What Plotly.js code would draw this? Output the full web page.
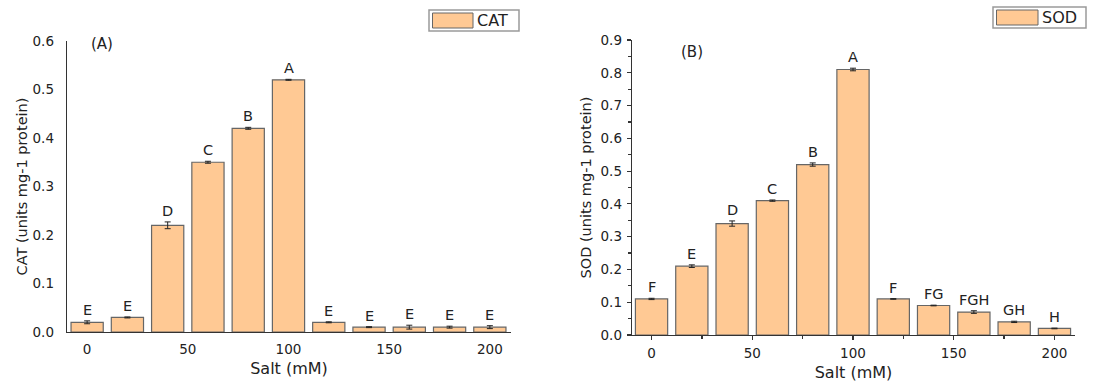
<!DOCTYPE html>
<html>
<head>
<meta charset="utf-8">
<script src="https://cdn.plot.ly/plotly-3.0.1.min.js"></script>
<style>
  html, body { margin: 0; padding: 0; background: #fff; }
  #chart { width: 1093px; height: 387px; }
</style>
</head>
<body>
<div id="chart"></div>
<script>
// ---- data ----
const salt = [0, 20, 40, 60, 80, 100, 120, 140, 160, 180, 200];
const catValues = [0.02, 0.03, 0.22, 0.35, 0.42, 0.52, 0.02, 0.01, 0.01, 0.01, 0.01];
const catErrors = [0.003, 0.001, 0.007, 0.002, 0.002, 0.001, 0.001, 0.001, 0.004, 0.002, 0.003];
const catLetters = ["E", "E", "D", "C", "B", "A", "E", "E", "E", "E", "E"];
const sodValues = [0.11, 0.21, 0.34, 0.41, 0.52, 0.81, 0.11, 0.09, 0.07, 0.04, 0.02];
const sodErrors = [0.002, 0.004, 0.008, 0.002, 0.005, 0.004, 0.001, 0.001, 0.004, 0.002, 0.001];
const sodLetters = ["F", "E", "D", "C", "B", "A", "F", "FG", "FGH", "GH", "H"];
const catTicks = [0, 0.1, 0.2, 0.3, 0.4, 0.5, 0.6];
const sodTicks = [0, 0.1, 0.2, 0.3, 0.4, 0.5, 0.6, 0.7, 0.8, 0.9];
const saltTicks = [0, 50, 100, 150, 200];

// ---- styling ----
const W = 1093, H = 387;
const FONT = "DejaVu Sans, Verdana, sans-serif";
const FILL = "#FFC994";
const EDGE = "#666666";
const TXT = "#222222";
const px = v => v / W;
const py = v => 1 - v / H;

function barTrace(vals, errs, xa, ya, name) {
  return {
    type: "bar", name: name, x: salt, y: vals, width: 16,
    xaxis: xa, yaxis: ya, showlegend: false,
    marker: { color: FILL, line: { color: EDGE, width: 1.2 } },
    error_y: { type: "data", array: errs, visible: true, color: "#222", thickness: 1, width: 3 },
    hoverinfo: "x+y"
  };
}

const data = [
  barTrace(catValues, catErrors, "x", "y", "CAT"),
  barTrace(sodValues, sodErrors, "x2", "y2", "SOD")
];

const letterFont = { family: FONT, size: 14.5, color: TXT };
const annotations = [];
salt.forEach((s, i) => {
  annotations.push({ xref: "x", yref: "y", x: s, y: catValues[i] + catErrors[i], text: catLetters[i],
    showarrow: false, yanchor: "bottom", yshift: 1, font: letterFont });
  annotations.push({ xref: "x2", yref: "y2", x: s, y: sodValues[i] + sodErrors[i], text: sodLetters[i],
    showarrow: false, yanchor: "bottom", yshift: 1, font: letterFont });
});
// panel labels
annotations.push({ xref: "paper", yref: "paper", x: px(102), y: py(44), text: "(A)", showarrow: false,
  xanchor: "center", yanchor: "middle", font: { family: FONT, size: 15, color: TXT } });
annotations.push({ xref: "paper", yref: "paper", x: px(692), y: py(52), text: "(B)", showarrow: false,
  xanchor: "center", yanchor: "middle", font: { family: FONT, size: 15, color: TXT } });
// legend texts
annotations.push({ xref: "paper", yref: "paper", x: px(475), y: py(20.5), text: "CAT", showarrow: false,
  xanchor: "left", yanchor: "middle", font: { family: FONT, size: 16, color: TXT } });
annotations.push({ xref: "paper", yref: "paper", x: px(1040), y: py(17.5), text: "SOD", showarrow: false,
  xanchor: "left", yanchor: "middle", font: { family: FONT, size: 16, color: TXT } });

const shapes = [
  // legend boxes
  { type: "rect", xref: "paper", yref: "paper", x0: px(429), x1: px(519), y0: py(31), y1: py(10),
    line: { color: "#9a9a9a", width: 1.5 }, fillcolor: "rgba(0,0,0,0)" },
  { type: "rect", xref: "paper", yref: "paper", x0: px(432.5), x1: px(473), y0: py(28), y1: py(13),
    line: { color: EDGE, width: 1 }, fillcolor: FILL },
  { type: "rect", xref: "paper", yref: "paper", x0: px(993), x1: px(1086), y0: py(28), y1: py(7),
    line: { color: "#9a9a9a", width: 1.5 }, fillcolor: "rgba(0,0,0,0)" },
  { type: "rect", xref: "paper", yref: "paper", x0: px(996.5), x1: px(1038), y0: py(25), y1: py(10),
    line: { color: EDGE, width: 1 }, fillcolor: FILL }
];

const tickFont = { family: FONT, size: 13.5, color: TXT };
const xTitleFont = { family: FONT, size: 16, color: TXT };
const yTitleFont = { family: FONT, size: 14.5, color: TXT };

const layout = {
  width: W, height: H,
  margin: { l: 0, r: 0, t: 0, b: 0 },
  paper_bgcolor: "#fff", plot_bgcolor: "#fff",
  xaxis: {
    domain: [px(67), px(511)], range: [-10, 210.5], anchor: "y",
    tickmode: "array", tickvals: saltTicks, ticks: "", showgrid: false, zeroline: false,
    showline: true, linecolor: "#333", linewidth: 1.3, tickfont: tickFont, ticklabelstandoff: 4,
    title: { text: "Salt (mM)", font: xTitleFont, standoff: 7 }
  },
  yaxis: {
    domain: [py(332), py(41)], range: [0, 0.6], anchor: "x",
    tickmode: "array", tickvals: catTicks, tickformat: ".1f", ticks: "", showgrid: false, zeroline: false,
    showline: true, linecolor: "#333", linewidth: 1.3, tickfont: tickFont, ticklabelstandoff: 9,
    title: { text: "CAT (units mg-1 protein)", font: yTitleFont, standoff: 1 }
  },
  xaxis2: {
    domain: [px(632), px(1075)], range: [-9.7, 210.2], anchor: "y2",
    tickmode: "array", tickvals: saltTicks, ticks: "outside", ticklen: 4, tickwidth: 1.2, tickcolor: "#333",
    minor: { ticks: "outside", ticklen: 2.5, dtick: 25, tick0: 0, tickwidth: 1.2, tickcolor: "#333" },
    showgrid: false, zeroline: false,
    showline: true, linecolor: "#333", linewidth: 1.3, tickfont: tickFont, ticklabelstandoff: 1,
    title: { text: "Salt (mM)", font: xTitleFont, standoff: 7 }
  },
  yaxis2: {
    domain: [py(335), py(40)], range: [0, 0.9], anchor: "x2",
    tickmode: "array", tickvals: sodTicks, tickformat: ".1f", ticks: "outside", ticklen: 4, tickwidth: 1.2, tickcolor: "#333",
    minor: { ticks: "outside", ticklen: 2.5, dtick: 0.05, tick0: 0, tickwidth: 1.2, tickcolor: "#333" },
    showgrid: false, zeroline: false,
    showline: true, linecolor: "#333", linewidth: 1.3, tickfont: tickFont, ticklabelstandoff: 2,
    title: { text: "SOD (units mg-1 protein)", font: yTitleFont, standoff: 5 }
  },
  annotations: annotations,
  shapes: shapes,
  showlegend: false
};

Plotly.newPlot("chart", data, layout, { displayModeBar: false, staticPlot: true });
</script>
</body>
</html>
